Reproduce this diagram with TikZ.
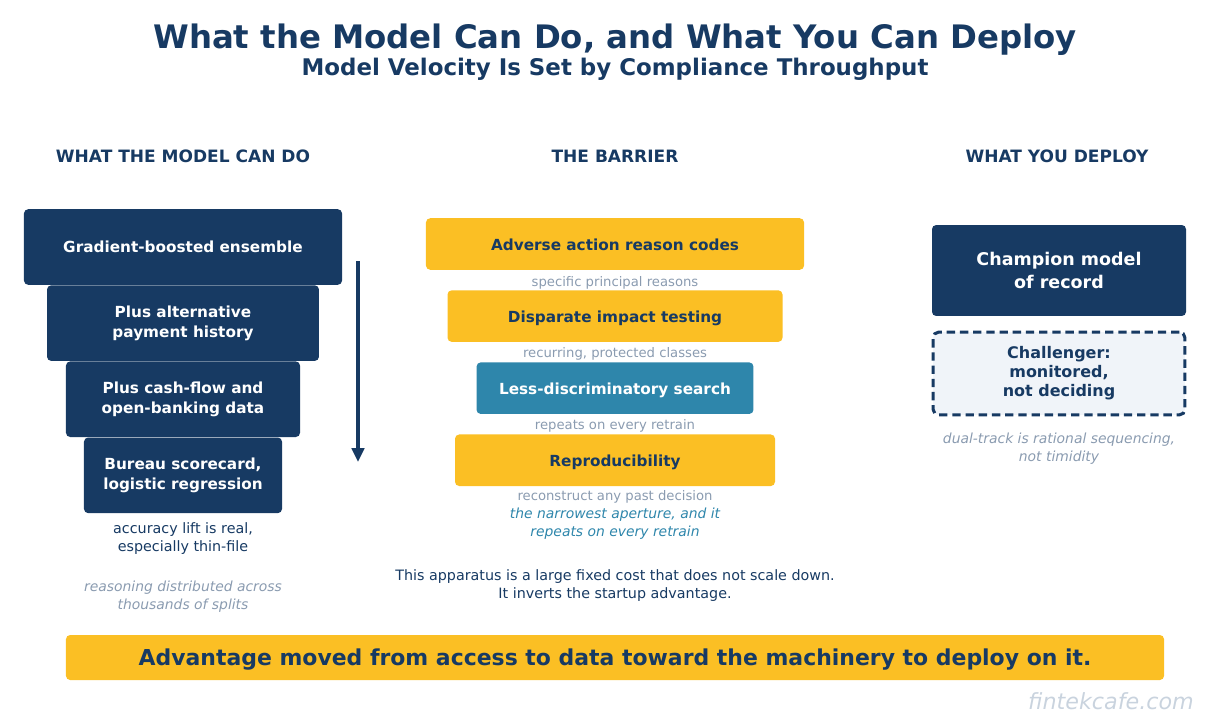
\documentclass[tikz,border=0pt]{standalone}
\usepackage{fontspec}
\setmainfont{DejaVu Sans}
\usepackage{tikz}
\usetikzlibrary{arrows.meta,positioning}
\definecolor{navy}{HTML}{173A63}
\definecolor{gold}{HTML}{FBBF24}
\definecolor{search}{HTML}{2E86AB}
\definecolor{muted}{HTML}{8A9BB0}
\definecolor{paper}{HTML}{F0F4F9}
\definecolor{wmark}{HTML}{C9D3DE}

\begin{document}
\begin{tikzpicture}[x=0.72pt, y=-0.72pt, every node/.style={align=center},
  head/.style={text=navy,font=\bfseries\fontsize{12.25}{14}\selectfont},
  tier/.style={fill=navy,text=white,rounded corners=3pt,minimum height=54.4pt,inner sep=0pt,font=\bfseries\fontsize{11}{14}\selectfont},
  gate/.style={fill=gold,text=navy,rounded corners=3pt,minimum height=37.1pt,inner sep=0pt,text height=9pt,text depth=0pt,font=\bfseries\fontsize{11}{14}\selectfont},
  note/.style={text=muted,font=\fontsize{9.5}{12}\selectfont},
  body/.style={text=navy,font=\fontsize{10.3}{13}\selectfont},
  aside/.style={text=muted,font=\itshape\fontsize{10}{13}\selectfont},
  flow/.style={-{Triangle[length=10pt,width=9pt]},line width=2.2pt,draw=navy}]
\useasboundingbox (0,0) rectangle (1230,727);

\node[text=navy,font=\bfseries\fontsize{23.3}{27}\selectfont] (title) at (615,40) {What the Model Can Do, and What You Can Deploy};
\node[text=navy,font=\bfseries\fontsize{16.5}{19}\selectfont] (subtitle) at (615,69) {Model Velocity Is Set by Compliance Throughput};

\node[head] (hmodel) at (183,156) {WHAT THE MODEL CAN DO};
\node[head] (hbarrier) at (615,156) {THE BARRIER};
\node[head] (hdeploy) at (1057,156) {WHAT YOU DEPLOY};

% left column: stacked model tiers
\node[tier,minimum width=229pt] (ensemble) at (183,247) {Gradient-boosted ensemble};
\node[tier,minimum width=195.8pt,below=0pt of ensemble] (altpay) {Plus alternative\\payment history};
\node[tier,minimum width=168.5pt,below=0pt of altpay] (cashflow) {Plus cash-flow and\\open-banking data};
\node[tier,minimum width=142.6pt,below=0pt of cashflow] (bureau) {Bureau scorecard,\\logistic regression};
\coordinate (arrtop) at (358,261);
\coordinate (arrbot) at (358,462);
\draw[flow] (arrtop) -- (arrbot);
\node[body] (lift) at (183,539) {accuracy lift is real,\\especially thin-file};
\node[aside] (splits) at (183,597) {reasoning distributed across\\thousands of splits};

% middle column: compliance gates
\node[gate,minimum width=272.2pt] (adverse) at (615,244) {Adverse action reason codes};
\node[gate,minimum width=241.2pt,below=14.4pt of adverse] (impact) {Disparate impact testing};
\node[gate,minimum width=199.4pt,fill=search,text=white,below=14.4pt of impact] (lds) {Less-discriminatory search};
\node[gate,minimum width=230.4pt,below=14.4pt of lds] (repro) {Reproducibility};
\node[note] (reasons) at (615,283) {specific principal reasons};
\node[note] (classes) at (615,354) {recurring, protected classes};
\node[note] (retrain) at (615,426) {repeats on every retrain};
\node[note] (past) at (615,497) {reconstruct any past decision};
\node[aside,text=search] (aperture) at (615,524) {the narrowest aperture, and it\\repeats on every retrain};
\node[body] (fixed) at (615,586) {This apparatus is a large fixed cost that does not scale down.\\It inverts the startup advantage.};

% right column: what ships
\node[fill=navy,text=white,rounded corners=3pt,minimum width=182.9pt,minimum height=65.5pt,font=\bfseries\fontsize{12.6}{16.5}\selectfont] (champion) at (1059,270.5) {Champion model\\of record};
\node[fill=paper,draw=navy,line width=2.2pt,dash pattern=on 6pt off 3.5pt,rounded corners=4pt,text=navy,minimum width=181.3pt,minimum height=59.6pt,font=\bfseries\fontsize{11.5}{13.7}\selectfont] (challenger) at (1059,373.5) {Challenger:\\monitored,\\not deciding};
\node[aside] (dualtrack) at (1059,449) {dual-track is rational sequencing,\\not timidity};

\node[fill=gold,text=navy,rounded corners=3pt,minimum width=790.6pt,minimum height=32.4pt,text height=11.5pt,text depth=0pt,font=\bfseries\fontsize{15.8}{19}\selectfont] (banner) at (615,657.5) {Advantage moved from access to data toward the machinery to deploy on it.};
\node[text=wmark,font=\itshape\fontsize{16}{19}\selectfont] (site) at (1111,701) {fintekcafe.com};
\end{tikzpicture}
\end{document}
